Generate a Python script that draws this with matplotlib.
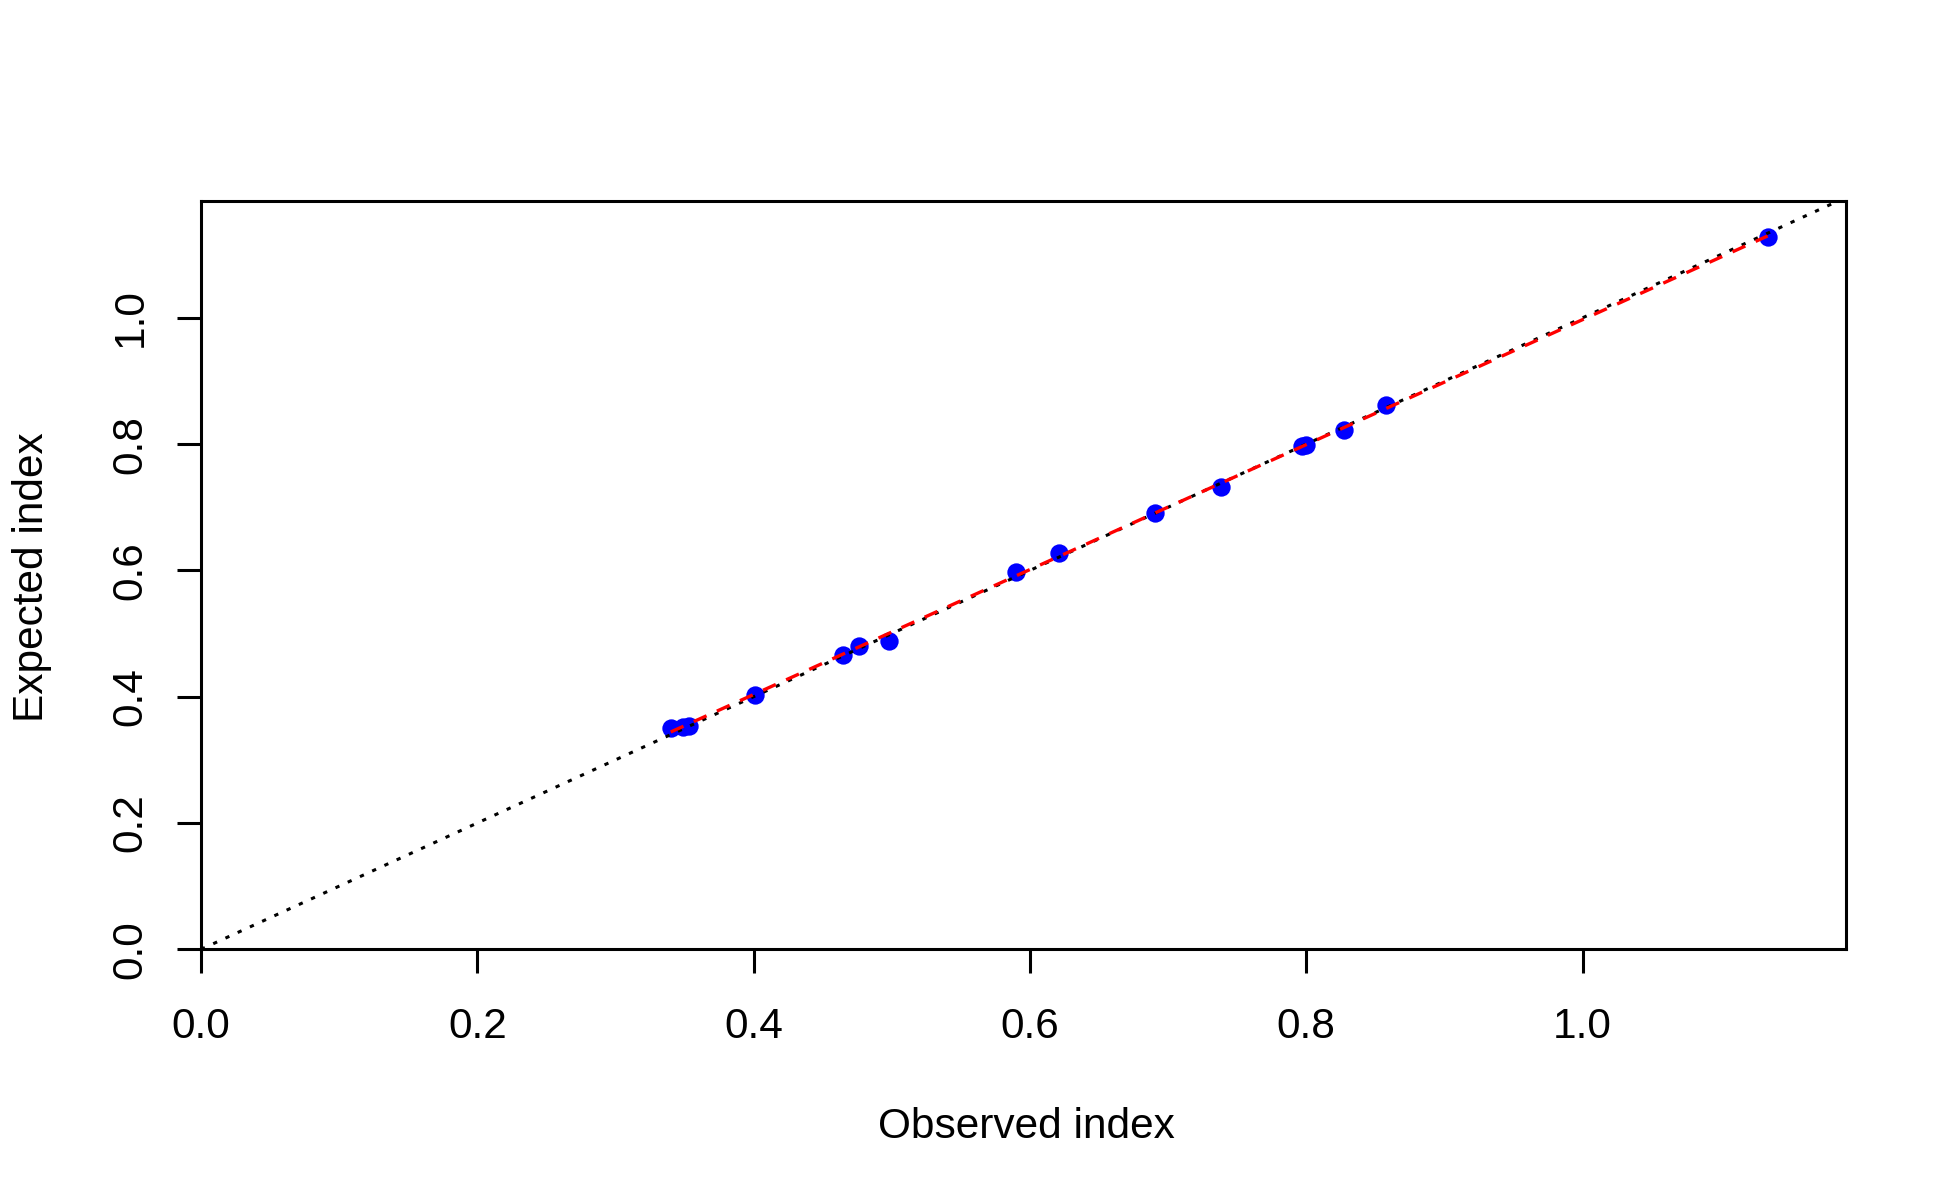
import numpy as np
import matplotlib
matplotlib.use('Agg')
import matplotlib.pyplot as plt

plt.rcParams['font.family'] = ['Liberation Sans', 'DejaVu Sans']

# observed vs expected index values
observed = [0.340, 0.349, 0.353, 0.401, 0.4645, 0.476, 0.498, 0.590, 0.621,
            0.6905, 0.738, 0.797, 0.800, 0.827, 0.858, 1.134]
expected = [0.351, 0.352, 0.354, 0.403, 0.4665, 0.481, 0.4885, 0.598, 0.628,
            0.6915, 0.7325, 0.797, 0.799, 0.823, 0.8615, 1.1285]
x_ticks = [0.0, 0.2, 0.4, 0.6, 0.8, 1.0]
y_ticks = [0.0, 0.2, 0.4, 0.6, 0.8, 1.0]

obs = np.array(observed)
exp_ = np.array(expected)
lim = obs.max() * 1.05

fig = plt.figure(figsize=(19.5, 12), dpi=100)
ax = fig.add_axes([201 / 1950, 1 - 949.3 / 1200, (1846 - 201) / 1950, (949.3 - 201) / 1200])

ax.plot(obs, exp_, 'o', color='blue', ms=13.2, mew=0, zorder=2)

# 1:1 reference line
ax.plot([0, lim], [0, lim], color='black', lw=2.2, dashes=(1.4, 3.0), zorder=3)

# fitted line over the data range
slope, inter = np.polyfit(obs, exp_, 1)
xs = np.array([obs.min(), obs.max()])
ax.plot(xs, inter + slope * xs, color='red', lw=2.4, dashes=(4.2, 3.4), zorder=4)

ax.set_xlim(0, lim)
ax.set_ylim(0, 1.185)
ax.set_xticks(x_ticks)
ax.set_yticks(y_ticks)
ax.set_xticklabels([f'{t:.1f}' for t in x_ticks])
ax.set_yticklabels([f'{t:.1f}' for t in y_ticks], rotation=90, va='center')
ax.tick_params(direction='out', length=17.5, width=2.2, labelsize=30.5, color='black')
ax.tick_params(axis='x', pad=24)
ax.tick_params(axis='y', pad=19)
for s in ax.spines.values():
    s.set_linewidth(2.2)

fig.text(1026 / 1950, 1 - 1127 / 1200, 'Observed index', ha='center', va='center', fontsize=30.5)
fig.text(32 / 1950, 1 - 577 / 1200, 'Expected index', ha='center', va='center',
         rotation=90, fontsize=30.5)

fig.savefig('out.png', dpi=100)
